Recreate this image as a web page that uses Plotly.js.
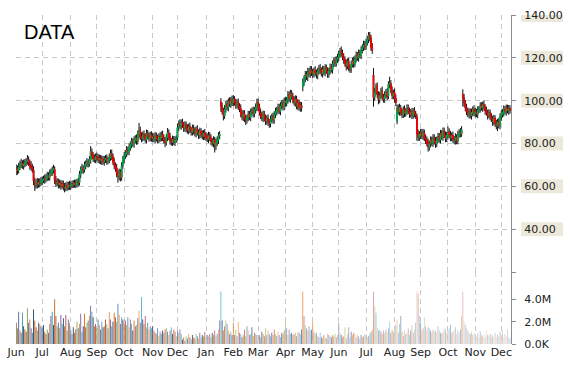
<!DOCTYPE html>
<html>
<head>
<meta charset="utf-8">
<script src="https://cdn.plot.ly/plotly-3.0.1.min.js"></script>
<style>html,body{margin:0;padding:0;background:#fff;}#chart{width:570px;height:370px;}</style>
</head>
<body>
<div id="chart"></div>
<script>
// ---- data (one row per month, weekdays from 2014-06-02) ----
const firstDay = '2014-06-02';
const monthLabels = ['Jun','Jul','Aug','Sep','Oct','Nov','Dec','Jan','Feb','Mar','Apr','May','Jun','Jul','Aug','Sep','Oct','Nov','Dec'];

const openPrices = [
 67.0,68.3,67.5,69.2,70.0,70.9,69.6,70.2,71.2,71.5,72.5,71.0,69.6,68.8,67.6,62.0,60.6,61.6,61.0,62.2,61.5,
 62.2,62.9,63.6,63.1,64.0,65.1,64.2,66.2,66.6,67.6,68.0,62.6,61.4,62.1,60.6,61.5,60.1,61.2,59.6,59.0,60.4,59.4,60.7,
 60.1,60.4,61.3,60.7,61.6,60.8,62.2,61.8,65.6,67.6,68.6,67.8,69.7,70.4,71.4,70.5,72.2,76.2,74.4,73.2,72.4,
 73.9,73.6,72.3,73.1,71.7,72.7,71.4,72.3,73.1,71.8,72.6,73.3,75.4,73.8,71.7,69.6,68.7,66.2,64.6,66.5,64.2,69.8,
 72.6,74.2,75.3,77.0,76.2,78.0,79.6,80.9,79.8,81.4,82.6,81.0,84.3,86.2,83.0,82.4,84.2,83.3,81.8,84.8,83.3,82.6,84.0,
 82.4,83.2,82.0,83.6,82.5,81.6,83.4,82.4,84.2,82.8,81.3,80.6,82.9,85.0,83.2,81.0,80.6,82.0,80.6,81.8,
 82.6,87.7,89.3,88.2,89.8,88.6,87.0,88.7,87.2,86.0,88.0,86.2,85.3,87.2,85.8,84.6,86.7,85.0,83.8,85.8,84.2,83.4,85.0,
 83.4,83.2,82.0,83.8,82.6,80.8,80.0,81.6,78.8,80.4,81.6,83.6,99.5,97.2,95.2,93.0,96.2,98.4,96.8,99.7,98.4,100.4,
 99.2,100.7,99.0,97.8,99.2,97.3,96.4,94.2,92.3,94.0,91.3,90.8,92.2,93.7,92.2,94.7,95.4,93.8,95.8,96.6,
 99.2,97.2,94.3,93.4,91.8,93.7,91.6,90.3,91.8,89.8,89.3,91.4,92.6,90.8,93.7,94.6,95.7,97.0,95.0,97.7,98.8,97.0,
 99.6,98.8,100.4,102.7,100.8,103.4,101.8,100.7,99.0,100.8,97.3,99.0,96.6,97.8,106.5,108.3,110.4,112.2,111.0,113.7,112.4,114.4,
 113.2,112.3,114.2,113.0,111.8,113.8,115.2,114.0,112.6,114.7,113.2,115.4,113.8,112.3,114.0,115.7,114.4,117.2,118.7,117.4,119.4,
 120.2,121.7,123.2,122.2,120.3,119.2,117.3,116.2,118.4,115.3,114.8,117.0,118.7,117.0,119.7,121.2,120.0,122.2,121.2,123.7,125.0,126.2,
 125.4,127.2,128.7,130.7,129.0,125.2,112.0,101.8,104.2,106.7,102.8,100.7,102.4,104.7,101.6,100.8,102.7,104.0,102.2,107.7,108.0,104.8,102.3,
 103.8,101.2,90.5,96.7,94.8,96.6,94.3,93.4,96.0,94.0,95.2,96.7,95.0,93.6,94.8,93.0,95.2,93.8,92.5,84.7,82.8,
 83.8,85.2,83.4,84.9,82.3,81.8,80.4,78.3,80.0,81.7,80.2,82.8,81.2,79.8,82.0,83.4,81.8,84.7,83.0,85.8,83.8,82.3,
 83.6,85.4,83.8,82.6,83.8,82.0,81.3,83.0,81.2,84.2,85.4,84.4,103.0,101.2,98.8,96.6,95.2,93.6,94.8,93.0,94.3,96.0,
 94.0,94.7,93.6,95.7,96.2,97.7,96.6,98.4,96.8,95.4,94.3,93.2,94.4,92.4,91.6,90.0,91.8,89.3,88.2,90.2,88.4,
 92.6,93.6,94.4,96.0,94.8,96.6,95.3,96.4
];
const highPrices = [
 70.2,69.8,71.0,72.0,72.9,72.2,72.5,72.8,73.1,74.6,74.0,72.5,71.8,70.5,69.4,64.0,63.4,63.9,63.7,63.8,64.4,
 64.6,65.0,65.5,65.9,66.8,66.6,67.8,68.3,69.2,70.1,69.4,64.8,63.8,63.6,63.2,62.9,62.8,62.7,61.6,61.8,62.3,62.1,62.6,
 62.2,62.7,62.9,63.1,63.2,63.5,63.9,67.2,69.3,70.5,69.9,71.6,72.1,73.2,72.7,74.1,78.8,77.7,76.0,74.9,75.4,
 75.8,75.1,74.9,74.6,74.4,74.2,74.2,74.6,74.9,73.9,75.3,77.1,77.2,75.3,73.4,71.2,70.5,67.8,68.3,68.0,71.3,74.3,
 76.0,77.0,78.8,78.5,80.1,81.0,82.7,82.4,83.4,83.9,84.3,86.1,89.6,87.9,85.2,85.6,86.1,84.8,86.5,86.3,85.2,85.5,85.7,
 84.9,84.8,85.4,85.1,84.2,84.7,85.2,85.6,86.0,84.3,83.1,84.3,87.2,86.6,85.0,82.6,83.7,83.5,83.4,83.7,
 89.3,90.7,91.3,91.2,91.6,90.1,90.4,90.2,89.0,89.3,89.8,87.7,88.9,88.7,87.6,88.0,88.5,86.6,87.4,87.2,86.1,86.3,86.8,
 85.2,84.7,85.5,85.3,84.3,82.5,83.4,83.1,82.4,83.3,85.3,85.8,101.2,99.0,96.7,98.0,99.8,100.2,101.1,101.6,101.8,102.4,
 102.6,102.1,100.9,100.6,101.0,98.8,98.3,95.7,95.6,95.5,93.2,93.5,95.3,95.2,96.3,96.8,97.2,97.1,98.7,100.9,
 101.0,98.7,96.3,94.9,95.4,95.2,93.5,93.1,93.6,91.5,93.0,93.9,94.4,95.1,96.7,97.1,98.6,98.5,99.3,100.2,100.6,101.5,
 101.6,101.8,104.5,104.3,105.1,104.9,103.7,102.1,102.5,102.3,100.6,100.5,99.5,99.3,110.4,111.8,113.9,113.8,115.3,115.3,116.2,116.1,
 115.0,115.5,116.1,114.5,115.4,116.6,117.1,115.5,116.3,116.2,117.0,116.9,115.6,115.3,117.3,117.2,118.8,120.0,120.5,120.7,121.9,
 123.4,124.6,125.3,123.8,122.2,120.7,119.2,119.8,120.2,116.9,118.7,120.1,120.5,121.1,123.0,122.7,123.9,123.7,125.4,126.4,128.0,127.9,
 129.0,130.2,132.0,132.1,130.7,126.9,115.2,105.8,108.1,108.5,104.4,104.1,106.0,106.6,103.2,104.4,105.4,105.8,109.1,111.2,109.6,106.6,105.1,
 105.7,102.9,98.2,98.2,98.6,98.0,96.3,97.3,97.8,96.5,98.3,98.2,96.8,96.1,96.6,96.5,97.0,95.3,94.0,86.5,85.8,
 86.9,86.8,86.8,86.5,84.2,83.3,82.3,81.3,83.3,83.2,84.4,84.3,83.0,83.3,85.0,84.9,86.4,86.2,87.5,87.4,85.7,85.4,
 88.0,87.1,85.9,85.2,85.6,83.5,84.8,84.3,85.9,86.7,87.2,88.1,105.3,103.1,100.3,98.5,96.8,96.4,96.4,96.3,97.3,97.8,
 96.6,96.2,97.4,97.5,99.3,99.2,99.6,100.1,98.3,97.2,95.8,96.0,95.8,94.2,93.0,93.4,93.2,91.1,91.5,92.0,94.1,
 95.6,96.1,97.8,97.5,98.2,98.1,98.0,97.9
];
const lowPrices = [
 65.2,65.4,66.0,67.6,68.5,68.2,67.8,68.9,69.4,70.1,69.5,67.8,67.2,66.4,60.6,57.8,58.9,59.0,59.4,59.5,60.2,
 60.6,61.5,61.2,61.8,62.4,62.7,62.6,64.8,64.9,66.0,61.0,59.8,60.1,59.0,59.1,58.4,58.9,58.1,57.2,57.7,57.9,58.2,58.3,
 58.5,59.1,59.2,59.4,59.2,59.5,59.8,60.4,63.8,66.1,65.8,66.4,67.9,69.0,68.8,69.2,70.6,72.7,71.4,71.1,70.8,
 71.7,70.9,70.6,70.3,70.0,70.1,69.7,70.9,70.1,70.3,70.8,71.9,72.3,70.0,68.0,66.9,64.2,61.7,62.8,62.3,62.6,68.3,
 70.8,72.7,73.6,74.5,74.6,76.6,77.8,78.5,78.0,80.0,79.4,79.6,82.4,81.7,80.6,81.0,81.3,80.4,80.0,81.9,80.9,81.1,80.8,
 80.7,80.6,80.2,80.9,80.0,80.1,80.8,81.0,81.1,80.0,78.3,79.1,81.1,81.6,79.5,79.0,78.9,79.3,78.8,80.3,
 81.4,85.8,86.9,86.4,87.3,85.4,85.5,85.2,84.6,84.3,84.9,83.7,83.7,84.2,83.3,82.8,83.7,82.1,82.3,82.6,81.9,81.6,81.6,
 81.2,80.7,80.2,81.1,79.2,78.7,78.2,75.8,77.0,78.9,79.8,82.1,94.8,93.5,90.8,91.5,94.4,95.5,95.0,97.1,96.6,97.5,
 97.4,97.7,96.2,96.3,95.7,94.7,92.2,90.9,90.5,90.0,88.6,89.3,90.4,90.9,90.4,93.1,92.1,92.3,94.0,95.1,
 95.2,93.0,91.4,90.5,90.0,90.3,88.6,88.8,88.2,87.3,87.6,89.9,89.2,89.3,91.9,93.1,93.9,93.7,93.2,96.1,95.4,95.5,
 97.2,97.3,98.6,99.5,99.0,100.5,98.7,97.7,97.2,96.0,95.6,95.3,94.8,94.9,104.4,106.8,108.6,109.7,109.2,111.1,110.6,111.5,
 110.6,110.8,111.4,110.4,110.0,112.3,112.4,111.3,110.8,111.9,111.4,112.5,110.7,110.7,112.2,113.1,112.6,115.7,115.8,115.9,117.6,
 118.4,120.1,120.6,118.9,117.2,115.9,114.1,114.7,113.7,113.0,113.0,115.5,115.3,115.7,117.8,118.6,118.2,119.8,119.4,122.1,123.2,123.6,
 123.6,125.7,126.9,127.7,123.2,121.9,97.2,99.8,102.7,101.2,98.3,98.8,100.9,100.0,99.1,99.0,101.2,100.2,100.7,105.8,103.5,100.6,100.7,
 99.0,97.5,89.0,93.5,93.0,93.0,91.8,91.9,92.4,92.5,93.4,93.7,92.0,92.1,91.4,91.5,92.2,91.5,81.3,81.1,81.3,
 82.0,82.1,81.6,81.1,79.8,78.7,76.2,76.7,78.2,78.9,78.4,79.5,78.0,78.3,80.2,80.5,80.0,81.7,81.2,82.5,80.6,80.7,
 81.8,82.5,81.0,81.1,80.4,79.7,79.5,79.7,79.6,82.7,82.8,83.1,97.2,97.2,95.0,93.2,92.3,91.7,91.7,91.2,92.7,92.8,
 92.2,92.3,91.8,94.2,94.4,95.3,94.8,95.5,93.4,93.0,91.2,91.7,90.8,90.0,88.3,88.5,87.7,86.6,85.8,87.1,86.6,
 90.6,92.1,92.6,93.5,93.0,94.1,93.4,93.9
];
const closePrices = [
 68.0,67.2,69.0,70.1,70.8,69.5,70.3,71.0,71.6,72.4,71.2,69.4,68.6,68.0,62.5,60.4,61.8,60.9,62.0,61.3,62.4,
 62.8,63.5,63.0,64.2,65.0,64.1,66.0,66.8,67.5,68.2,62.8,61.5,62.0,60.8,61.4,60.2,61.0,59.8,58.9,60.3,59.5,60.6,60.0,
 60.5,61.2,60.8,61.5,60.9,62.0,61.6,65.5,67.8,68.5,67.6,69.8,70.5,71.2,70.6,72.4,76.5,74.2,73.0,72.5,73.8,
 73.5,72.4,73.0,71.8,72.6,71.5,72.2,73.0,71.9,72.5,73.4,75.2,74.0,71.5,69.8,68.5,66.0,64.8,66.4,64.0,69.5,72.8,
 74.0,75.5,76.8,76.0,78.2,79.5,80.8,80.0,81.6,82.4,81.2,84.5,86.0,83.2,82.5,84.0,83.1,82.0,84.6,83.5,82.8,83.9,82.6,
 83.0,82.1,83.5,82.4,81.8,83.2,82.6,84.0,82.9,81.5,80.4,82.8,85.2,83.0,81.2,80.5,81.9,80.8,81.6,82.2,
 87.5,89.2,88.4,89.6,88.8,87.2,88.5,87.0,86.2,87.8,86.4,85.5,87.0,86.0,84.8,86.5,85.2,84.0,85.6,84.4,83.5,84.8,83.2,
 83.0,82.2,83.6,82.5,81.0,80.2,81.5,79.0,80.6,81.8,83.5,84.2,97.5,95.0,93.2,96.0,98.2,97.0,99.5,98.6,100.2,99.0,
 100.5,99.2,98.0,99.0,97.5,96.2,94.0,92.5,93.8,91.5,90.6,92.0,93.5,92.4,94.5,95.2,94.0,95.6,96.8,99.0,
 97.0,94.5,93.2,92.0,93.5,91.8,90.5,91.6,90.0,89.5,91.2,92.4,91.0,93.5,94.8,95.5,96.8,95.2,97.5,98.6,97.2,99.8,
 99.0,100.2,102.5,101.0,103.2,102.0,100.5,99.2,100.6,97.5,98.8,96.8,97.6,96.5,108.5,110.2,112.0,111.2,113.5,112.6,114.2,113.0,
 112.5,114.0,113.2,112.0,113.6,115.0,114.2,112.8,114.5,113.4,115.2,114.0,112.5,113.8,115.5,114.6,117.0,118.5,117.6,119.2,120.0,
 121.5,123.0,122.4,120.5,119.0,117.5,116.0,118.2,115.5,114.6,116.8,118.5,117.2,119.5,121.0,120.2,122.0,121.4,123.5,124.8,126.0,125.2,
 127.0,128.5,130.5,129.2,125.0,123.5,101.5,104.0,106.5,103.0,100.5,102.2,104.5,101.8,100.6,102.5,103.8,102.0,107.5,108.2,105.0,102.5,103.5,
 101.0,99.0,96.5,95.0,96.8,94.5,93.6,95.8,94.2,95.0,96.5,95.2,93.8,94.6,93.2,95.0,94.0,93.0,84.5,83.0,84.2,
 85.0,83.6,84.8,82.5,81.6,80.2,78.5,79.8,81.5,80.4,82.6,81.0,80.0,81.8,83.2,82.0,84.5,83.2,85.6,84.0,82.5,83.8,
 85.2,84.0,82.8,83.6,82.2,81.5,82.8,81.2,84.0,85.2,84.6,86.5,101.5,99.0,96.5,95.0,93.8,94.6,93.2,94.5,95.8,94.6,
 94.5,93.8,95.5,96.0,97.5,96.8,98.2,97.0,95.2,94.5,93.0,94.2,92.6,91.5,90.2,91.6,89.5,88.4,90.0,88.6,92.5,
 93.8,94.6,95.8,95.0,96.4,95.5,96.2,95.4
];
// volume, millions of shares
const volumeM = [
 1.9,1.4,2.9,1.2,1.0,2.8,1.6,1.3,1.1,3.2,1.9,2.2,1.4,1.0,3.1,2.1,1.5,1.2,1.9,1.8,1.6,
 1.4,1.7,1.1,0.9,1.3,1.0,1.8,2.5,2.9,1.7,4.0,2.5,1.6,1.9,1.4,2.6,1.8,2.3,1.6,2.6,1.2,2.2,1.9,
 1.2,0.9,1.5,1.0,1.3,2.0,1.4,1.8,2.7,1.1,1.6,2.7,1.5,1.9,2.1,2.5,3.4,2.9,2.4,1.6,1.8,
 1.4,2.2,1.7,1.3,2.0,1.5,1.6,2.2,1.8,1.4,2.9,2.2,1.6,2.0,2.8,2.4,2.0,3.6,2.6,1.8,2.4,2.2,
 1.9,2.1,1.7,2.4,1.5,2.2,1.8,1.2,2.1,1.6,1.7,2.3,3.0,1.9,4.2,2.2,1.8,2.5,1.5,1.9,1.3,1.6,1.4,
 1.6,1.2,1.0,0.9,1.4,0.7,1.1,0.9,1.2,1.0,1.3,1.4,1.1,0.8,1.2,1.5,0.9,1.3,1.1,0.7,
 1.2,1.0,1.3,0.9,0.4,0.6,0.3,0.7,0.5,0.9,0.6,0.4,0.8,0.6,0.5,0.9,0.7,0.5,1.0,0.6,0.8,0.7,1.1,
 0.6,0.8,0.7,0.9,0.6,1.0,0.8,1.2,0.7,0.9,1.3,2.1,4.7,2.1,1.2,1.6,2.1,1.8,1.2,0.9,1.1,0.8,
 1.9,0.8,1.3,0.7,2.0,1.0,0.9,0.6,0.8,1.3,0.7,1.6,1.2,0.8,0.9,1.5,0.7,1.0,0.9,0.8,
 0.7,0.8,0.6,1.1,0.9,0.7,1.4,0.8,1.2,0.9,0.7,1.0,0.8,1.3,0.9,0.7,1.1,0.8,0.6,1.0,0.9,1.2,
 2.0,1.4,0.8,1.3,0.9,1.0,0.8,0.9,1.0,0.7,1.1,1.0,0.9,1.3,4.7,2.5,1.7,1.4,1.2,1.6,1.2,1.3,
 2.0,1.1,0.9,1.0,0.7,0.6,1.0,0.6,0.5,0.8,0.6,0.5,0.9,0.8,0.7,0.6,0.8,0.7,0.9,0.6,0.8,
 1.9,1.0,0.8,0.6,0.7,1.5,0.5,0.9,1.5,0.6,1.1,0.8,1.0,0.9,0.6,0.8,0.7,0.5,0.8,0.6,0.7,0.9,
 0.8,0.6,0.7,0.9,1.1,1.3,4.7,3.4,2.8,1.4,1.2,1.3,1.1,0.9,1.2,1.0,1.3,1.1,1.4,2.0,1.0,1.3,1.1,
 1.4,1.7,2.1,1.0,1.8,2.5,1.1,0.7,1.2,0.9,1.0,1.4,0.8,1.2,1.7,1.0,1.3,1.9,4.7,4.5,2.5,
 1.9,1.2,1.4,2.4,1.6,1.3,1.5,1.4,1.2,1.0,1.3,1.1,1.2,1.0,1.6,1.2,1.0,0.9,1.1,1.4,1.3,1.0,
 1.2,1.4,1.7,1.0,1.1,1.3,1.5,0.9,1.2,1.0,1.3,2.5,4.7,2.0,1.7,1.4,1.2,1.0,0.9,1.1,0.8,1.0,
 0.9,0.7,1.0,0.6,1.1,0.8,0.7,0.9,0.6,1.2,0.8,0.7,0.9,0.6,0.8,0.7,1.0,0.6,0.9,0.7,1.1,
 0.8,1.2,0.6,0.9,0.7,1.3,0.6,0.5
];
const priceTicks = [20, 40, 60, 80, 100, 120, 140];
const priceTickText = ['', '40.00', '60.00', '80.00', '100.00', '120.00', '140.00'];
const volumeTicks = [0, 2, 4];
const volumeTickText = ['0.0K', '2.0M', '4.0M'];

// ---- build dates: consecutive weekdays ----
const n = Math.min(openPrices.length, highPrices.length, lowPrices.length, closePrices.length, volumeM.length);
const dates = [];
{
  const d = new Date(firstDay + 'T00:00:00Z');
  while (dates.length < n) {
    const wd = d.getUTCDay();
    if (wd !== 0 && wd !== 6) dates.push(d.toISOString().slice(0, 10));
    d.setUTCDate(d.getUTCDate() + 1);
  }
}
const monthTickVals = [];
dates.forEach((ds, i) => { if (i === 0 || ds.slice(0, 7) !== dates[i - 1].slice(0, 7)) monthTickVals.push(ds); });

const bodyHigh = [], bodyLow = [];
for (let i = 0; i < n; i++) { bodyHigh.push(Math.max(openPrices[i], closePrices[i])); bodyLow.push(Math.min(openPrices[i], closePrices[i])); }

// volume colours: palette cycling, fading lighter over time
const palette = ['#c0504d', '#9bbb59', '#4f81bd', '#f79646', '#8064a2', '#4bacc6', '#1f497d', '#e46c0a'];
function mix(hex, t) {
  const r = parseInt(hex.slice(1, 3), 16), g = parseInt(hex.slice(3, 5), 16), b = parseInt(hex.slice(5, 7), 16);
  const f = c => t < 0 ? Math.round(c * (1 + t)) : Math.round(c + (255 - c) * t);
  return 'rgb(' + f(r) + ',' + f(g) + ',' + f(b) + ')';
}
const volColors = [];
for (let i = 0; i < n; i++) volColors.push(mix(palette[i % palette.length], -0.22 + 0.9 * i / (n - 1)));

const tickFont = { family: 'DejaVu Sans, Verdana, sans-serif', size: 11, color: '#222' };
const gridCol = '#c9c9c9';
const X = dates.slice(0, n);

const traces = [
  // black wicks (full high-low range)
  { type: 'candlestick', x: X, open: openPrices, high: highPrices, low: lowPrices, close: closePrices,
    increasing: { line: { color: '#111', width: 1 }, fillcolor: '#111' },
    decreasing: { line: { color: '#111', width: 1 }, fillcolor: '#111' },
    whiskerwidth: 0, hoverinfo: 'skip', xaxis: 'x', yaxis: 'y' },
  // coloured bodies on top
  { type: 'candlestick', x: X, open: openPrices, high: bodyHigh, low: bodyLow, close: closePrices,
    increasing: { line: { color: '#00b050', width: 1 }, fillcolor: '#00b050' },
    decreasing: { line: { color: '#ff0000', width: 1 }, fillcolor: '#ff0000' },
    whiskerwidth: 0, hoverinfo: 'skip', xaxis: 'x', yaxis: 'y' },
  { type: 'bar', x: X, y: volumeM.slice(0, n), marker: { color: volColors, line: { width: 0 } }, hoverinfo: 'skip', xaxis: 'x', yaxis: 'y2' }
];

const shapes = priceTicks.filter((v, i) => priceTickText[i] !== '').map(v => ({
  type: 'rect', xref: 'paper', yref: 'y', xsizemode: 'pixel', ysizemode: 'pixel',
  xanchor: 1, yanchor: v, x0: 10, x1: 52, y0: -7, y1: 7,
  fillcolor: '#ece9da', line: { width: 0 }, layer: 'below'
}));

const layout = {
  width: 570, height: 370,
  margin: { l: 16, r: 59, t: 15, b: 26, pad: 0 },
  paper_bgcolor: '#fff', plot_bgcolor: '#fff',
  showlegend: false,
  bargap: 0.3,
  boxgap: 0.3,
  title: { text: 'DATA', xref: 'container', yref: 'container', x: 24 / 570, xanchor: 'left', y: 1 - 32 / 370, yanchor: 'middle',
    font: { family: 'Liberation Sans, Arial, sans-serif', size: 20, color: '#000' } },
  xaxis: {
    type: 'date', anchor: 'y2',
    range: ['2014-05-30 20:00', '2015-12-10 20:00'],
    rangebreaks: [{ bounds: ['sat', 'mon'] }],
    rangeslider: { visible: false },
    tickmode: 'array', tickvals: monthTickVals, ticktext: monthLabels,
    showgrid: true, gridcolor: gridCol, griddash: '5px,4px', gridwidth: 1,
    ticks: '', showline: false, zeroline: false,
    tickfont: tickFont, fixedrange: true
  },
  yaxis: {
    domain: [0.2188, 1], range: [20, 140], side: 'right', anchor: 'x',
    tickmode: 'array', tickvals: priceTicks, ticktext: priceTickText,
    showline: true, linecolor: '#8c8c8c', linewidth: 1,
    ticks: 'outside', ticklen: 4, tickcolor: '#8c8c8c',
    showgrid: true, gridcolor: gridCol, griddash: '5px,4px', gridwidth: 1,
    zeroline: false, tickfont: tickFont, ticklabelstandoff: 6, fixedrange: true
  },
  yaxis2: {
    domain: [0, 0.2188], range: [0, 6.45], side: 'right', anchor: 'x',
    tickmode: 'array', tickvals: volumeTicks, ticktext: volumeTickText,
    showline: true, linecolor: '#8c8c8c', linewidth: 1,
    ticks: 'outside', ticklen: 4, tickcolor: '#8c8c8c',
    showgrid: false, zeroline: false, tickfont: tickFont, ticklabelstandoff: 6, fixedrange: true
  },
  shapes: shapes
};

Plotly.newPlot('chart', traces, layout, { staticPlot: true, displayModeBar: false });
</script>
</body>
</html>
